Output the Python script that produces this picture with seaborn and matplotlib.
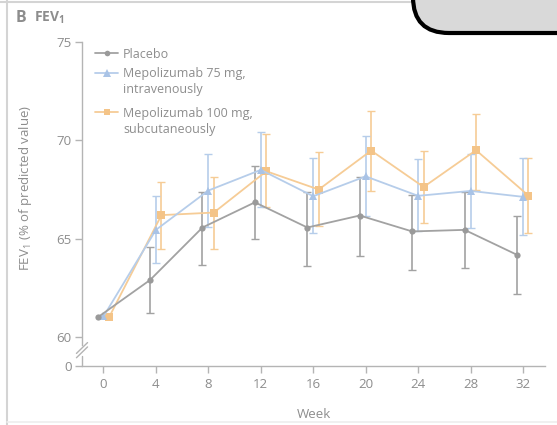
import numpy as np
import pandas as pd
import matplotlib
matplotlib.use("Agg")
import matplotlib.pyplot as plt
from matplotlib.lines import Line2D
from matplotlib.patches import FancyBboxPatch
import seaborn as sns

weeks = [0, 4, 8, 12, 16, 20, 24, 28, 32]
groups = ["Placebo", "Mepolizumab 75 mg,\nintravenously", "Mepolizumab 100 mg,\nsubcutaneously"]

placebo_mean = [61.0, 62.9, 65.57, 66.85, 65.57, 66.18, 65.37, 65.45, 64.18]
placebo_low = [np.nan, 61.2, 63.67, 65.0, 63.6, 64.1, 63.4, 63.5, 62.2]
placebo_high = [np.nan, 64.6, 67.36, 68.7, 67.4, 68.16, 67.2, 67.35, 66.14]

iv75_mean = [61.05, 65.45, 67.45, 68.5, 67.16, 68.17, 67.18, 67.43, 67.13]
iv75_low = [np.nan, 63.76, 65.6, 66.6, 65.3, 66.18, 65.37, 65.57, 65.2]
iv75_high = [np.nan, 67.16, 69.3, 70.4, 69.1, 70.2, 69.04, 69.3, 69.1]

sc100_mean = [61.0, 66.2, 66.33, 68.43, 67.5, 69.48, 67.63, 69.5, 67.19]
sc100_low = [np.nan, 64.5, 64.5, 66.6, 65.63, 67.45, 65.79, 67.5, 65.28]
sc100_high = [np.nan, 67.9, 68.16, 70.3, 69.4, 71.47, 69.48, 71.34, 69.1]

y_ticks = [60, 65, 70, 75]
x_ticks = weeks

# ---- styles ----
colors = {groups[0]: "#a2a2a2", groups[1]: "#b6cdea", groups[2]: "#f6cc96"}
mcolors = {groups[0]: "#9a9a9a", groups[1]: "#a9c3e6", groups[2]: "#f4c488"}
markers = {groups[0]: "o", groups[1]: "^", groups[2]: "s"}
msizes = {groups[0]: 4.5, groups[1]: 6, groups[2]: 5.5}
offsets = {groups[0]: -0.45, groups[1]: 0.0, groups[2]: 0.42}
txt = "#8d8d8d"
axcol = "#b4b4b4"

sns.set_theme(style="white")
plt.rcParams["font.family"] = ["Open Sans", "DejaVu Sans"]
plt.rcParams["mathtext.fontset"] = "custom"
plt.rcParams["mathtext.rm"] = "Open Sans"
plt.rcParams["mathtext.bf"] = "Open Sans:bold"

means = [placebo_mean, iv75_mean, sc100_mean]
lows = [placebo_low, iv75_low, sc100_low]
highs = [placebo_high, iv75_high, sc100_high]

rows = []
for g, m, lo, hi in zip(groups, means, lows, highs):
    for w, v, l, h in zip(weeks, m, lo, hi):
        rows.append({"group": g, "week": w, "x": w + offsets[g], "value": v, "low": l, "high": h})
df = pd.DataFrame(rows)

fig = plt.figure(figsize=(5.57, 4.25), dpi=100)
ax = fig.add_axes([82 / 557, (425 - 366) / 425, (545 - 82) / 557, (366 - 42) / 425])

Y0 = 58.53  # position standing for 0 on the broken axis

order = [groups[2], groups[1], groups[0]]
for g in order:
    sub = df[df.group == g]
    ax.errorbar(sub.x, sub.value,
                yerr=[sub.value - sub.low, sub.high - sub.value],
                fmt="none", ecolor=colors[g], elinewidth=1.2, capsize=2.6,
                capthick=1.0, zorder=2)
for g in order:
    sub = df[df.group == g]
    sns.lineplot(data=sub, x="x", y="value", ax=ax, color=colors[g],
                 marker=markers[g], markersize=msizes[g], markeredgewidth=0,
                 markerfacecolor=mcolors[g], linewidth=1.3, legend=False,
                 estimator=None, sort=True, zorder=3)

ax.set_xlim(-1.64, 33.68)
ax.set_ylim(Y0, 75)
ax.set_xticks(x_ticks)
ax.set_xticklabels([str(w) for w in x_ticks])
ax.set_yticks([Y0] + y_ticks)
ax.set_yticklabels(["0"] + [str(t) for t in y_ticks])
ax.tick_params(axis="both", colors=axcol, labelcolor=txt, labelsize=9.5,
               length=5, width=1.0, direction="out", pad=2.5)
ax.tick_params(axis="x", pad=4)
ax.tick_params(left=True, bottom=True)

for s in ["top", "right"]:
    ax.spines[s].set_visible(False)
ax.spines["left"].set_color(axcol)
ax.spines["bottom"].set_color(axcol)
ax.spines["left"].set_linewidth(1.0)
ax.spines["bottom"].set_linewidth(1.0)
ax.spines["left"].set_bounds(59.6, 75)
ax.plot([0, 0], [Y0, 59.05], transform=ax.get_yaxis_transform(), color=axcol,
        lw=1.0, clip_on=False, zorder=5)
for yb in (0.0, 0.22):
    ax.plot([-0.012, 0.012], [58.95 + yb, 59.5 + yb], transform=ax.get_yaxis_transform(),
            color=axcol, lw=1.0, clip_on=False, zorder=5)

ax.set_xlabel("Week", color=txt, fontsize=9.5)
ax.xaxis.set_label_coords(0.501, -0.13)
ax.set_ylabel("FEV$_1$ (% of predicted value)", color=txt, fontsize=9.5)
ax.yaxis.set_label_coords(-0.103, 0.55)

# manual legend (handle aligned with first text line)
leg_y = [53, 72.5, 112]
for g, yy in zip(groups, leg_y):
    yf = (425 - yy) / 425
    fig.add_artist(Line2D([95 / 557, 118 / 557], [yf, yf], color=colors[g], lw=1.3))
    fig.add_artist(Line2D([106.5 / 557], [yf], marker=markers[g], markersize=msizes[g] * 0.9,
                          markeredgewidth=0, markerfacecolor=mcolors[g], color=colors[g]))
    fig.text(123 / 557, (425 - yy + 5.5) / 425, g, color=txt, fontsize=9, va="top", ha="left",
             linespacing=1.3)

# panel title
fig.text(16 / 557, (425 - 18) / 425, "B", color=txt, fontsize=11.5, fontweight="bold",
         va="center", ha="left")
fig.text(34 / 557, (425 - 18) / 425, r"FEV$_\mathbf{1}$", color=txt, fontsize=10,
         fontweight="bold", va="center", ha="left")

# panel frame
fc = "#d4d4d4"
fig.add_artist(Line2D([7 / 557, 7 / 557], [0, 1], color=fc, lw=1.5))
fig.add_artist(Line2D([0, 1], [(425 - 2) / 425] * 2, color=fc, lw=1.5))
fig.add_artist(Line2D([7 / 557, 1], [(425 - 422) / 425] * 2, color="#eeeeee", lw=1.2))

# overlay box at top right
box = FancyBboxPatch((4.13, (425 - 33) / 100), 2.0, 1.0,
                     boxstyle="round,pad=0,rounding_size=0.36",
                     transform=fig.dpi_scale_trans, facecolor="#d9d9d9",
                     edgecolor="black", linewidth=3.0, zorder=10, clip_on=False)
fig.add_artist(box)

fig.savefig("out.png", dpi=100)
